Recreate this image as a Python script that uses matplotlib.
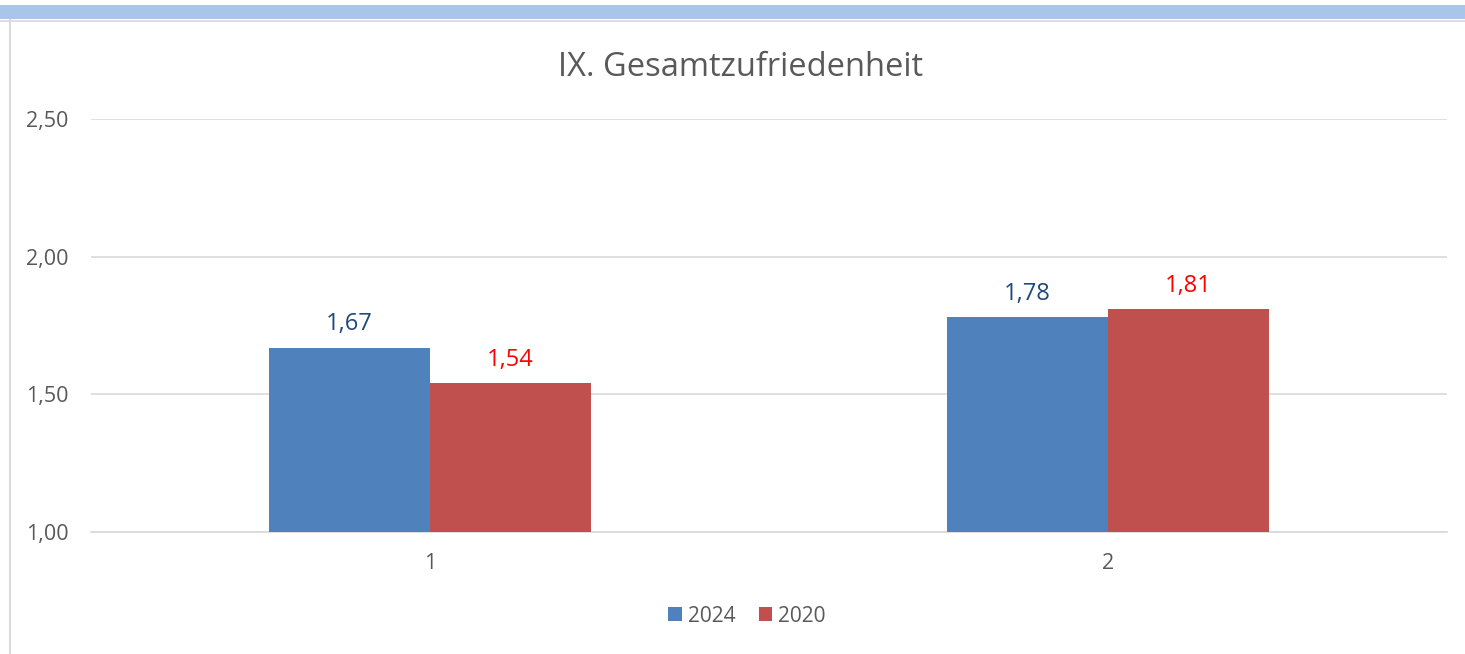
import matplotlib
matplotlib.use("Agg")
import matplotlib.pyplot as plt
from matplotlib.patches import Rectangle
from matplotlib.lines import Line2D
import numpy as np

categories = ["1", "2"]
series_names = ["2024", "2020"]
values_2024 = [1.67, 1.78]
values_2020 = [1.54, 1.81]
yticks = [1.00, 1.50, 2.00, 2.50]
title = "IX. Gesamtzufriedenheit"

plt.rcParams['font.family'] = ['Open Sans', 'DejaVu Sans']

W, H = 1465, 654
fig = plt.figure(figsize=(W / 100, H / 100), dpi=100)

# decorative frame: top band, thin borders
fig.patches.append(Rectangle((0, 1 - 19 / H), 1, 14 / H, transform=fig.transFigure,
                             facecolor="#A9C6EA", edgecolor="none", zorder=0))
fig.lines.append(Line2D([0, 1], [1 - 20.5 / H, 1 - 20.5 / H], transform=fig.transFigure,
                        color="#D9D9D9", lw=1.2))
fig.lines.append(Line2D([9.5 / W, 9.5 / W], [0, 1 - 20 / H], transform=fig.transFigure,
                        color="#D9D9D9", lw=1.5))

left, right = 91, 1447
top, bottom = 119, 532
ax = fig.add_axes([left / W, 1 - bottom / H, (right - left) / W, (bottom - top) / H])

x = np.arange(len(categories))
bw = 0.238
b1 = ax.bar(x - bw / 2, values_2024, bw, bottom=0, color="#4F81BD", label=series_names[0], zorder=3)
b2 = ax.bar(x + bw / 2, values_2020, bw, bottom=0, color="#C0504D", label=series_names[1], zorder=3)

ax.set_ylim(1.0, 2.5)
ax.set_xlim(-0.5, len(categories) - 0.5)
ax.set_yticks(yticks)
ax.set_yticklabels([f"{v:.2f}".replace(".", ",") for v in yticks])
ax.set_xticks(x)
ax.set_xticklabels(categories)
ax.grid(axis="y", color="#D9D9D9", lw=1.2, zorder=0)
ax.set_axisbelow(True)
for s in ["top", "right", "left"]:
    ax.spines[s].set_visible(False)
ax.spines["bottom"].set_color("#D9D9D9")
ax.spines["bottom"].set_linewidth(1.2)
ax.tick_params(axis="both", length=0, colors="#595959", labelsize=15.5)
ax.tick_params(axis="y", pad=16)
ax.tick_params(axis="x", pad=15)

for bars, vals, col in [(b1, values_2024, "#1F497D"), (b2, values_2020, "#FF0000")]:
    for r, v in zip(bars, vals):
        ax.annotate(f"{v:.2f}".replace(".", ","), (r.get_x() + r.get_width() / 2, v),
                    xytext=(0, 8), textcoords="offset points", ha="center", va="bottom",
                    color=col, fontsize=17)

fig.text(741 / W, 1 - 67 / H, title, ha="center", va="center", fontsize=23.5, color="#595959")

leg = fig.legend(handles=[b1, b2], labels=series_names, loc="center",
                 bbox_to_anchor=(747 / W, 1 - 616 / H), ncol=2, frameon=False,
                 fontsize=15, handlelength=0.65, handleheight=0.65, handletextpad=0.3,
                 columnspacing=1.1)
for t in leg.get_texts():
    t.set_color("#595959")

fig.savefig("out.png", dpi=100)
